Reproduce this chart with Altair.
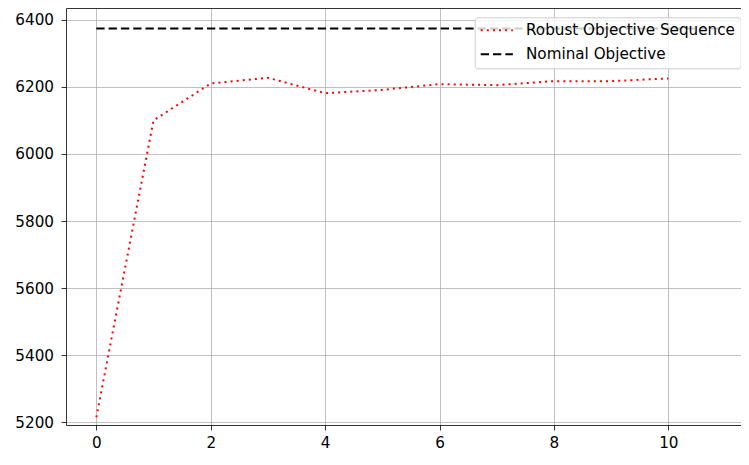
import altair as alt
import pandas as pd

# Data
iterations = [0, 1, 2, 3, 4, 5, 6, 7, 8, 9, 10]
robust_values = [5215, 6100, 6210, 6227, 6181, 6191, 6208, 6205, 6217, 6217, 6225]
nominal_x = [0, 11]
nominal_value = 6374

series_names = ["Robust Objective Sequence", "Nominal Objective"]
series_colors = ["#ff0000", "#000000"]
series_dashes = [[2, 4.1], [8.3, 4]]

x_ticks = [0, 2, 4, 6, 8, 10]
y_ticks = [5200, 5400, 5600, 5800, 6000, 6200, 6400]

robust_df = pd.DataFrame({"x": iterations, "y": robust_values, "series": series_names[0]})
nominal_df = pd.DataFrame({"x": nominal_x, "y": [nominal_value] * len(nominal_x), "series": series_names[1]})
df = pd.concat([robust_df, nominal_df], ignore_index=True)

x_scale = alt.Scale(domain=[-0.53, 11.27], nice=False, zero=False)
y_scale = alt.Scale(domain=[5192, 6435], nice=False, zero=False)
color_scale = alt.Scale(domain=series_names, range=series_colors)
dash_scale = alt.Scale(domain=series_names, range=series_dashes)

y_axis = alt.Axis(values=y_ticks, format="d", title=None)

base = alt.Chart(df)

robust = base.transform_filter(alt.datum.series == series_names[0]).mark_line(strokeWidth=2).encode(
    x=alt.X("x:Q", scale=x_scale,
            axis=alt.Axis(values=x_ticks, format="d", title=None, orient="bottom")),
    y=alt.Y("y:Q", scale=y_scale, axis=y_axis),
    color=alt.Color("series:N", scale=color_scale, title=None),
    strokeDash=alt.StrokeDash("series:N", scale=dash_scale, title=None),
)

nominal = base.transform_filter(alt.datum.series == series_names[1]).mark_line(strokeWidth=2).encode(
    x=alt.X("x:Q", scale=x_scale,
            axis=alt.Axis(orient="top", labels=False, ticks=False, grid=False, domain=True, title=None)),
    y=alt.Y("y:Q", scale=y_scale, axis=y_axis),
    color=alt.Color("series:N", scale=color_scale, title=None),
    strokeDash=alt.StrokeDash("series:N", scale=dash_scale, title=None),
)

chart = alt.layer(robust, nominal).resolve_axis(x="independent").properties(
    width=675,
    height=417,
    autosize=alt.AutoSizeParams(type="none"),
    padding={"left": 58, "top": 0, "right": 0, "bottom": 28},
    background="white",
).configure(
    font="DejaVu Sans"
).configure_view(
    stroke=None
).configure_axis(
    domainColor="black",
    domainWidth=0.8,
    tickColor="black",
    tickWidth=0.8,
    tickSize=5,
    labelColor="black",
    labelFontSize=15.2,
    gridColor="#b0b0b0",
    gridWidth=0.8,
    gridOpacity=1,
).configure_axisX(
    labelPadding=5
).configure_axisY(
    labelPadding=7.5
).configure_legend(
    orient="none",
    legendX=408.7,
    legendY=9.3,
    padding=5,
    fillColor="rgba(255,255,255,0.8)",
    strokeColor="#cccccc",
    cornerRadius=3,
    symbolType="M-1,0H3.6",
    symbolSize=196,
    symbolStrokeWidth=2,
    symbolFillColor="transparent",
    labelOffset=30.3,
    labelFontSize=15.2,
    labelColor="black",
    labelLimit=400,
    rowPadding=7,
)

chart.save("out.html", embed_options={"renderer": "svg", "actions": False})
